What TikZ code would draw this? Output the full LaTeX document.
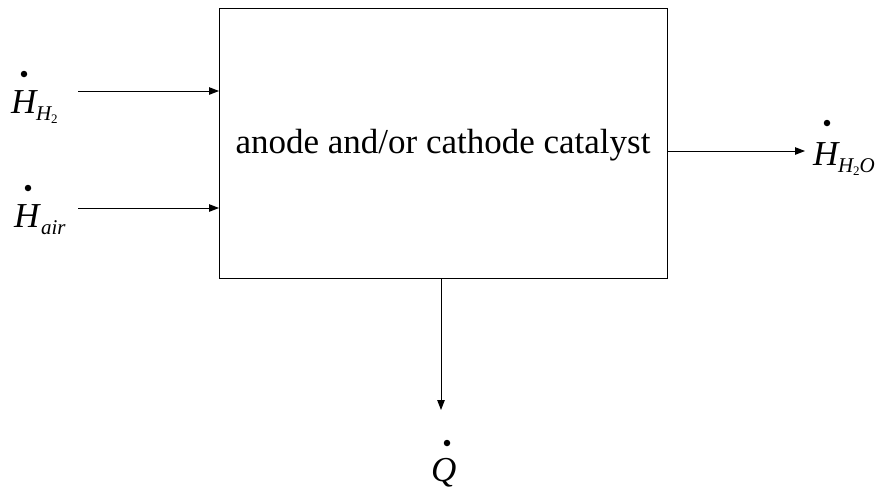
\documentclass[tikz,border=0pt]{standalone}
\usepackage{fontspec}
\setmainfont{Liberation Serif}
\usetikzlibrary{arrows.meta}
\newcommand{\bigfs}{\fontsize{35}{35}\selectfont}
\newcommand{\subfs}{\fontsize{21}{21}\selectfont}
\newcommand{\subsubfs}{\fontsize{13}{13}\selectfont}
\begin{document}
\begin{tikzpicture}[x=1pt,y=-1pt,
  lbl/.style={anchor=base west, inner sep=0, font=\bigfs},
  flow/.style={line width=1pt, -{Triangle[length=10pt,width=7.5pt]}},
  dotmark/.style={fill=black, circle, inner sep=0, minimum size=6.5pt}]
\useasboundingbox (0,0) rectangle (879,491);
\node[draw, line width=1pt, anchor=north west, minimum width=448pt, minimum height=270pt, inner sep=0] (box) at (219,8) {};
\node[anchor=base, inner sep=0, font=\bigfs] (txt) at (443,153) {anode and/or cathode catalyst};
% labels
\node[lbl] (lh2) at (11,113) {\textit{H}\kern-2pt\raisebox{-7pt}{\subfs\textit{H}\kern-1pt\raisebox{-3pt}{\subsubfs 2}}};
\node[dotmark] (dh2) at (24,74) {};
\node[lbl] (lair) at (14,227) {\textit{H}\raisebox{-7pt}{\subfs\textit{air}}};
\node[dotmark] (dair) at (28,188) {};
\node[lbl] (lh2o) at (813,165) {\textit{H}\kern-2pt\raisebox{-7pt}{\subfs\textit{H}\kern-1pt\raisebox{-3pt}{\subsubfs 2}\textit{O}}};
\node[dotmark] (dh2o) at (827,123) {};
\node[lbl] (lq) at (431,481) {\textit{Q}};
\node[dotmark] (dq) at (447,443) {};
% connector coordinates
\coordinate (s1) at (78,91);
\coordinate (e1) at (box.west |- s1);
\coordinate (s2) at (78,208);
\coordinate (e2) at (box.west |- s2);
\coordinate (s3) at (box.east |- 0,151);
\coordinate (e3) at (805,151);
\coordinate (s4) at (441,278);
\coordinate (e4) at (441,410);
\draw[flow] (s1) -- (e1);
\draw[flow] (s2) -- (e2);
\draw[flow] (s3) -- (e3);
\draw[flow] (s4) -- (e4);
\end{tikzpicture}
\end{document}
